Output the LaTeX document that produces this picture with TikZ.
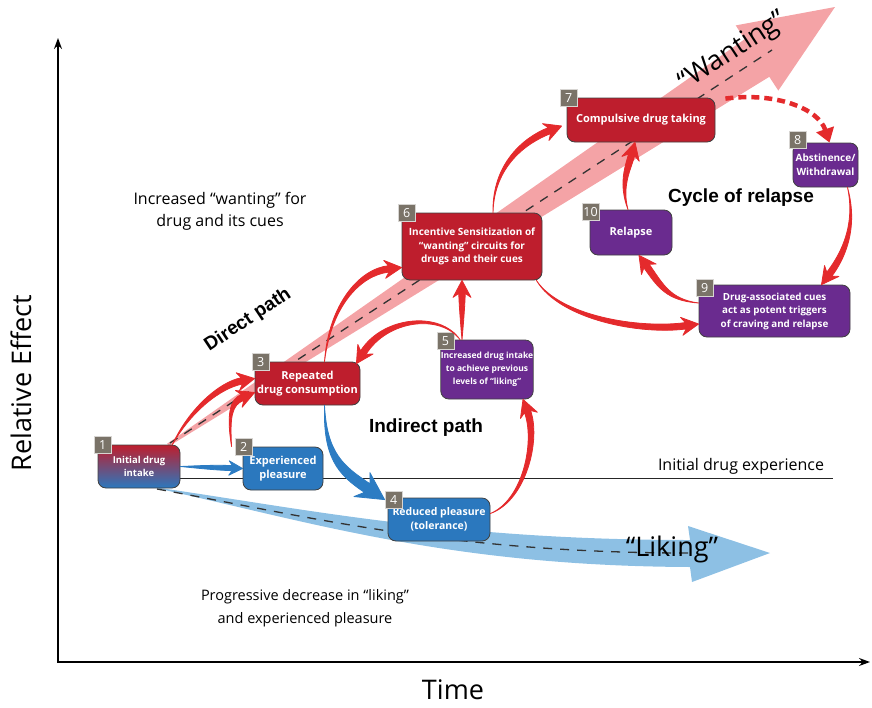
\documentclass[tikz,border=0pt]{standalone}
\usepackage{fontspec}
\setmainfont{Open Sans}
\newfontfamily\headfont{Liberation Sans}
\usetikzlibrary{calc}
\usetikzlibrary{arrows.meta,positioning}

\definecolor{boxred}{HTML}{BE1E2D}
\definecolor{boxblue}{HTML}{2B78BE}
\definecolor{boxpurple}{HTML}{6A2B8F}
\definecolor{badgegray}{HTML}{7A7368}
\definecolor{arrowred}{HTML}{E42A2C}
\definecolor{arrowblue}{HTML}{2C7CC3}
\definecolor{wantpink}{HTML}{F4A3A6}
\definecolor{likeblue}{HTML}{8DC0E4}

% tapered arrow: [scale]{colour}{tail}{control 1}{control 2}{tip}
\newcommand{\swoosh}[6][1]{%
    \coordinate (sw-s) at #3;
    \coordinate (sw-a) at #4;
    \coordinate (sw-c) at #5;
    \coordinate (sw-t) at #6;
    \coordinate (sw-b) at ($(sw-t)!#1*13pt!(sw-c)$);
    \coordinate (sw-k) at ($(sw-t)!#1*17pt!(sw-c)$);
    \fill[#2,draw=#2,line width=0.8pt,line join=round]
        (sw-s) .. controls ($(sw-a)!#1*1.8pt!-90:(sw-c)$) and ($(sw-c)!#1*3.2pt!-90:(sw-b)$) .. ($(sw-b)!#1*3.2pt!90:(sw-c)$)
        -- ($(sw-k)!#1*9pt!90:(sw-c)$) -- (sw-t) -- ($(sw-k)!#1*9pt!-90:(sw-c)$)
        -- ($(sw-b)!#1*3.2pt!-90:(sw-c)$) .. controls ($(sw-c)!#1*3.2pt!90:(sw-b)$) and ($(sw-a)!#1*1.8pt!90:(sw-c)$) .. (sw-s) -- cycle;
}

\begin{document}
\begin{tikzpicture}[x=1pt,y=-1pt,
    box/.style={draw=black!75,line width=0.8pt,rounded corners=8pt,text=white,align=center,inner sep=0pt,font=\bfseries\fontsize{10}{13.5}\selectfont},
    badge/.style={fill=badgegray,draw=white!70!badgegray,line width=0.4pt,text=white,minimum size=17pt,inner sep=0pt,font=\fontsize{12.5}{12.5}\selectfont},
    dashline/.style={draw=black!80,line width=1.3pt,dash pattern=on 9pt off 8pt},
    pathlabel/.style={font=\headfont\bfseries\fontsize{19}{19}\selectfont}]
    \useasboundingbox (0,0) rectangle (872,707);
    % axes
    \coordinate (ytop) at (58,38);
    \coordinate (xend) at (870,662);
    \draw[line width=1.5pt,{Stealth[length=11pt,width=8pt]}-{Stealth[length=11pt,width=8pt]}] (ytop) |- (xend);
    \node[rotate=90,font=\fontsize{27}{27}\selectfont] (ylabel) at (21,383) {Relative Effect};
    \node[font=\fontsize{27}{27}\selectfont] (xlabel) at (453,690) {Time};
    % wanting and liking bands
    \fill[wantpink] (168.8,446.3) -- (769.3,76.8) -- (778.3,90.6) -- (835,7) -- (735.7,25.4) -- (744.7,39.2) -- (167.2,443.7) -- cycle;
    \draw[dashline] (170,443) -- (772,50);
    \fill[likeblue] (153,487) .. controls (300,508) and (450,540) .. (690,540) -- (688,526) -- (770,553) -- (692,582) -- (690,567) .. controls (450,566) and (310,522) .. (160,489) -- cycle;
    \draw[dashline] (157,489) .. controls (300,515) and (450,553) .. (688,553);
    \draw[line width=1pt,black!85] (150,478) -- (833,478);
    \node[rotate=33.2,font=\fontsize{27}{27}\selectfont] (wanting) at (733,52) {“Wanting”};
    \node[font=\fontsize{27}{27}\selectfont] (liking) at (672,549) {“Liking”};
    \node[font=\fontsize{16}{22}\selectfont,align=center] (wantnote) at (220,211) {Increased “wanting” for\\drug and its cues};
    \node[font=\fontsize{14.5}{23}\selectfont,align=center] (likenote) at (305,608) {Progressive decrease in “liking”\\and experienced pleasure};
    \node[font=\fontsize{16}{16}\selectfont] (expnote) at (741,466) {Initial drug experience};
    \node[pathlabel,rotate=33.7] (direct) at (248,320) {Direct path};
    \node[pathlabel] (indirect) at (426,428) {Indirect path};
    \node[pathlabel] (cycle) at (741,198) {Cycle of relapse};
    % stages
    \node[box,top color=boxred,bottom color=boxblue,minimum width=82pt,minimum height=43pt,font=\bfseries\fontsize{9.5}{13.5}\selectfont] (n1) at (139,466.5) {Initial drug\\intake};
    \node[box,fill=boxblue,minimum width=80pt,minimum height=43pt,font=\bfseries\fontsize{11}{14}\selectfont] (n2) at (283,468.5) {Experienced\\pleasure};
    \node[box,fill=boxred,minimum width=105pt,minimum height=43pt,font=\bfseries\fontsize{11}{14}\selectfont] (n3) at (307.5,383.5) {Repeated\\drug consumption};
    \node[box,fill=boxblue,minimum width=102pt,minimum height=43pt,font=\bfseries\fontsize{10.5}{14}\selectfont] (n4) at (439,519.5) {Reduced pleasure\\(tolerance)};
    \node[box,fill=boxpurple,minimum width=92pt,minimum height=59pt,font=\bfseries\fontsize{8.5}{13}\selectfont] (n5) at (487,369.5) {Increased drug intake\\to achieve previous\\levels of “liking”};
    \node[box,fill=boxred,minimum width=140pt,minimum height=67pt] (n6) at (472,246.5) {Incentive Sensitization of\\“wanting” circuits for\\drugs and their cues};
    \node[box,fill=boxred,minimum width=148pt,minimum height=44pt,font=\bfseries\fontsize{11}{14}\selectfont] (n7) at (641,120) {Compulsive drug taking};
    \node[box,fill=boxpurple,minimum width=65pt,minimum height=44pt,font=\bfseries\fontsize{10}{14}\selectfont] (n8) at (825.5,165) {Abstinence/\\Withdrawal};
    \node[box,fill=boxpurple,minimum width=151pt,minimum height=52pt,font=\bfseries\fontsize{9.8}{13.5}\selectfont] (n9) at (774.5,311) {Drug-associated cues\\act as potent triggers\\of craving and relapse};
    \node[box,fill=boxpurple,minimum width=82pt,minimum height=45pt,font=\bfseries\fontsize{11}{14}\selectfont] (n10) at (631,232.5) {Relapse};
    \node[badge] (b1) at ([xshift=5pt]n1.north west) {1};
    \node[badge] (b2) at ([xshift=1pt]n2.north west) {2};
    \node[badge] (b3) at ([xshift=6pt]n3.north west) {3};
    \node[badge] (b4) at ([xshift=6pt,yshift=-2pt]n4.north west) {4};
    \node[badge] (b5) at ([xshift=5pt,yshift=-1pt]n5.north west) {5};
    \node[badge] (b6) at ([xshift=5pt]n6.north west) {6};
    \node[badge] (b7) at ([xshift=2pt]n7.north west) {7};
    \node[badge] (b8) at ([xshift=5pt,yshift=3pt]n8.north west) {8};
    \node[badge] (b9) at ([xshift=6pt,yshift=-3pt]n9.north west) {9};
    \node[badge] (b10) at ([xshift=1pt,yshift=-2pt]n10.north west) {10};
    % flows
    \swoosh[0.8]{arrowblue}{(n1.east)}{(200,467)}{(215,467.5)}{(n2.west)}
    \swoosh{arrowred}{([xshift=-8pt]n1.north east)}{(190,410)}{(220,385)}{([yshift=5pt]n3.west)}
    \swoosh{arrowred}{([xshift=-11pt]n2.north west)}{(228,415)}{(231,402)}{([yshift=-9pt]n3.west)}
    \swoosh{arrowred}{([xshift=17pt]n3.north)}{(330,305)}{(360,272)}{([yshift=-21pt]n6.west)}
    \swoosh{arrowred}{([xshift=-27pt]n5.north)}{(440,312)}{(385,318)}{([shift={(-4pt,-2pt)}]n3.north east)}
    \swoosh{arrowred}{([xshift=-25pt]n5.north)}{(462,320)}{(462,300)}{([xshift=-10pt]n6.south)}
    \swoosh{arrowred}{([yshift=6pt]n4.east)}{(525,500)}{(538,440)}{([xshift=36pt]n5.south)}
    \swoosh[1.6]{arrowblue}{([xshift=17pt]n3.south)}{(325,455)}{(340,470)}{([shift={(-3pt,-2pt)}]n4.north west)}
    \swoosh{arrowred}{([xshift=21pt]n6.north)}{(493,165)}{(525,140)}{([shift={(-5pt,-6pt)}]n7.west)}
    \swoosh{arrowred}{([xshift=-6pt]n6.south east)}{(560,318)}{(640,332)}{([yshift=-13pt]n9.west)}
    \draw[arrowred,line width=4.5pt,dash pattern=on 8pt off 5pt,-{Triangle[length=14pt,width=18pt]}] ([shift={(10pt,-1pt)}]n7.north east) .. controls (775,92) and (818,108) .. ([xshift=4pt]n8.north);
    \swoosh{arrowred}{([xshift=22pt]n8.south)}{(858,230)}{(840,260)}{([xshift=47pt]n9.north)}
    \swoosh{arrowred}{([yshift=8pt]n9.west)}{(668,300)}{(660,285)}{([xshift=8pt]n10.south)}
    \swoosh{arrowred}{([xshift=-3pt]n10.north)}{(620,185)}{(628,168)}{([xshift=-6pt]n7.south)}
\end{tikzpicture}
\end{document}
